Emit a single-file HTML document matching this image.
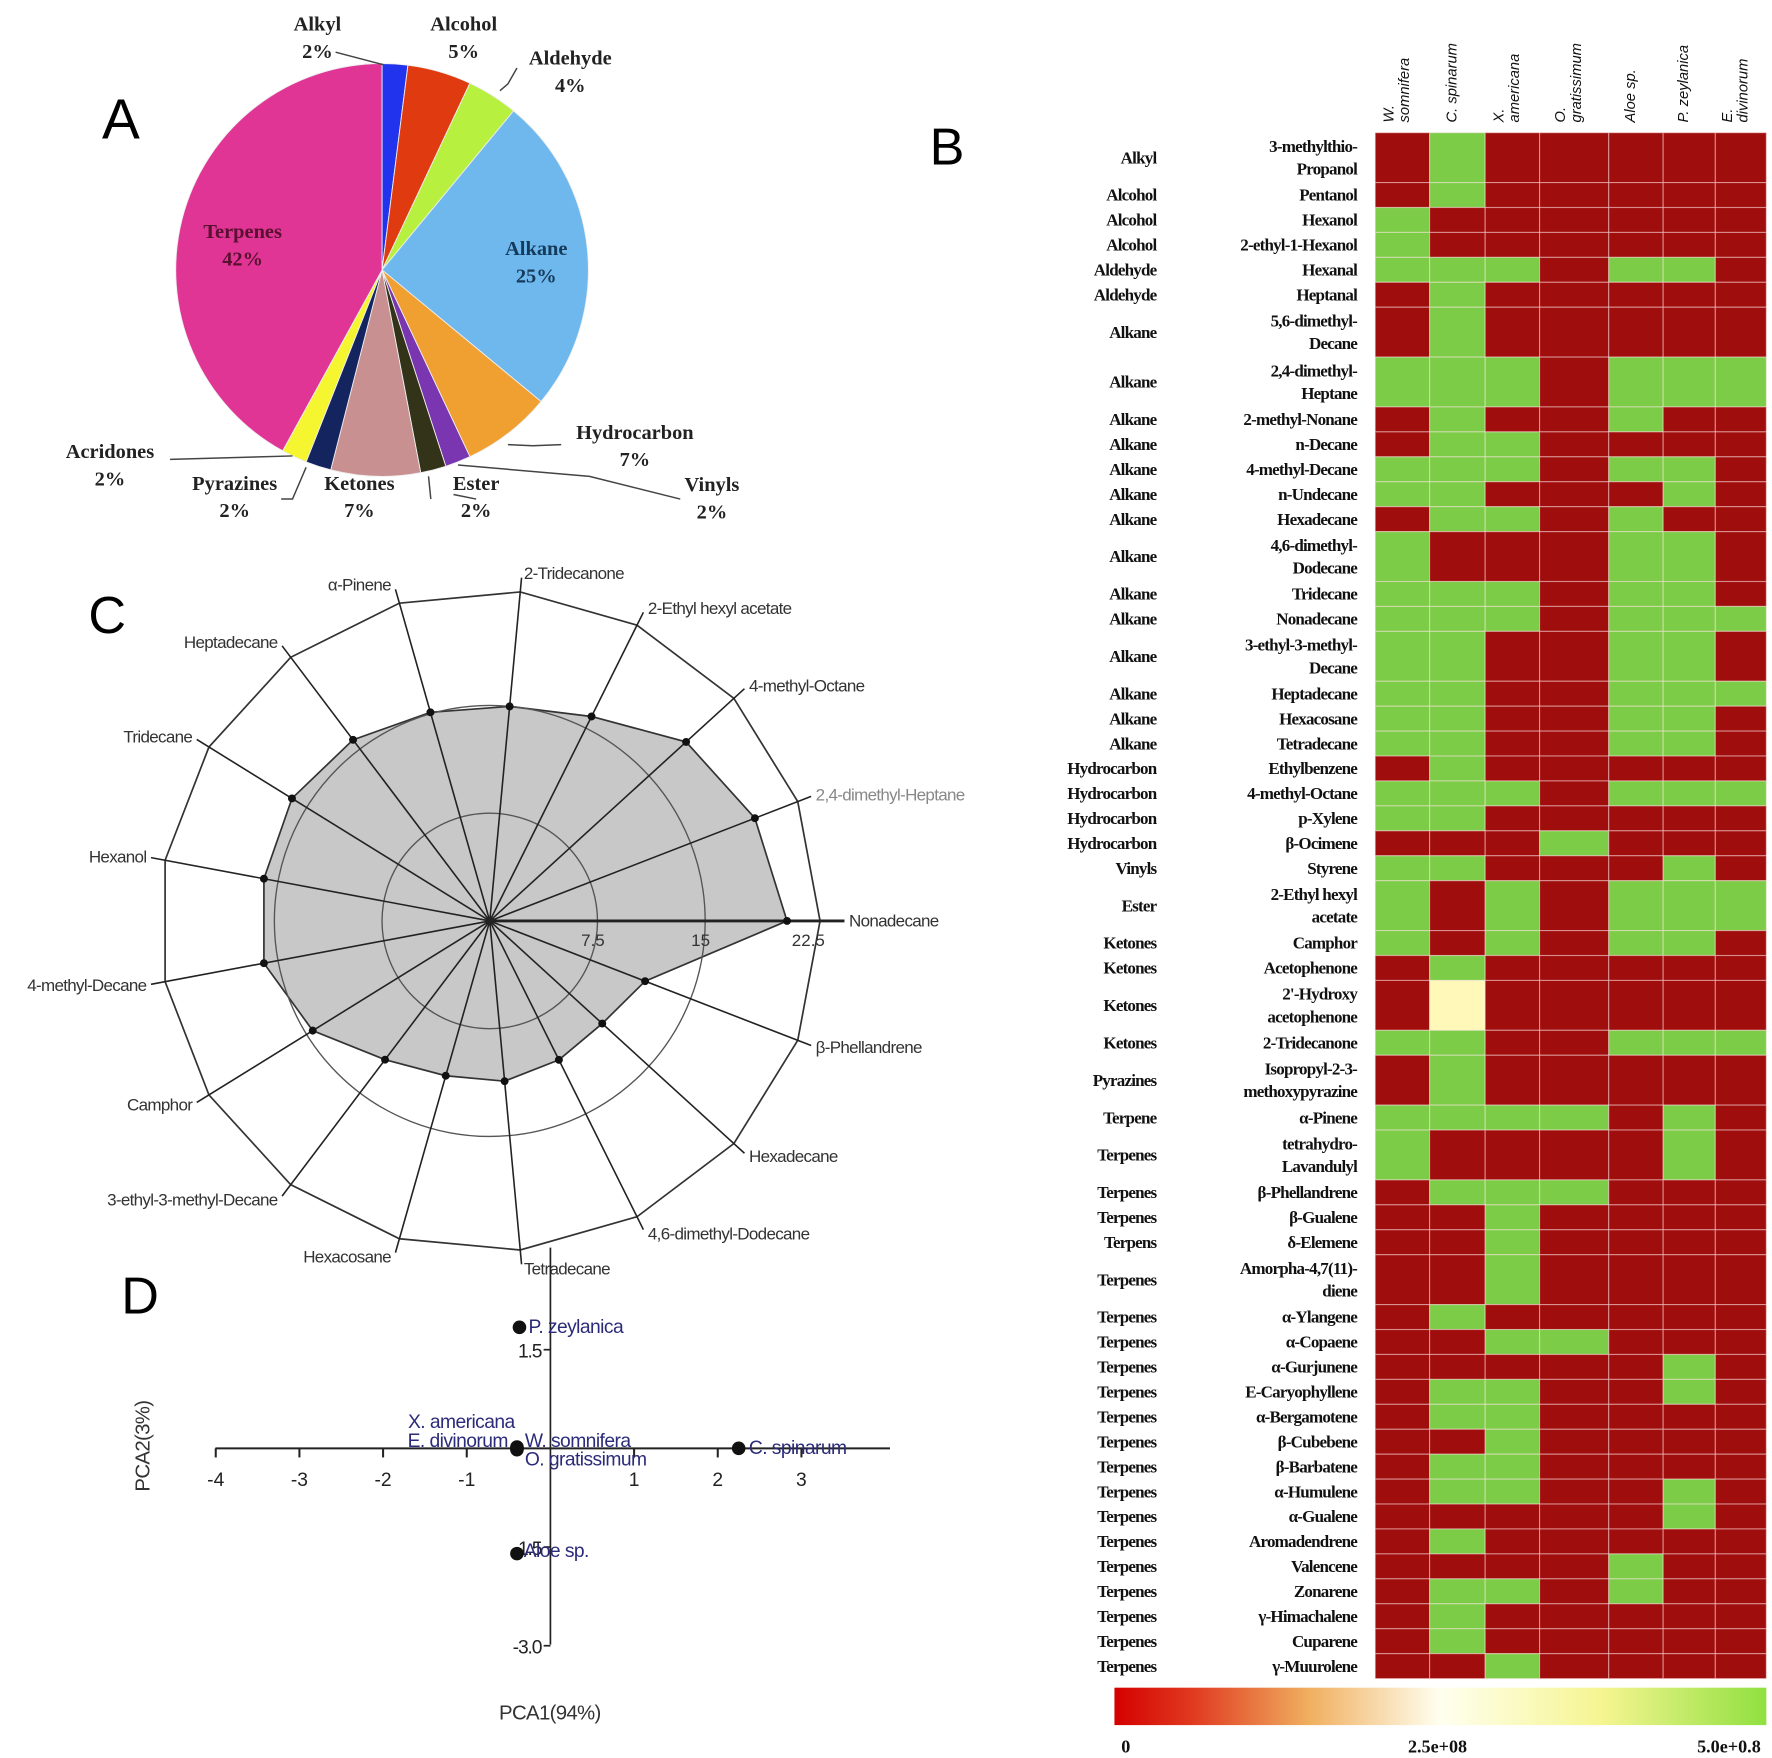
<!DOCTYPE html>
<html><head><meta charset="utf-8"><style>
html,body{margin:0;padding:0;background:#fff;}
svg{display:block;}
.ser{font-family:"Liberation Serif",serif;font-weight:bold;}
.san{font-family:"Liberation Sans",sans-serif;}
</style></head><body>
<svg id="fig" width="1772" height="1758" viewBox="0 0 1563 1550" preserveAspectRatio="none" xmlns="http://www.w3.org/2000/svg">
<rect x="0" y="0" width="1563" height="1550" fill="#fff"/>
<text class="san" x="90" y="122" font-size="50">A</text>
<text class="san" x="820" y="145" font-size="46">B</text>
<text class="san" x="78" y="558" font-size="46">C</text>
<text class="san" x="107" y="1158" font-size="46">D</text>
<g id="pie"></g>
<g id="radar"></g>
<g id="pca"></g>
<g id="heat"></g>
</svg>
<script>
const NS="http://www.w3.org/2000/svg";
function mk(parent,tag,attrs,txt){const e=document.createElementNS(NS,tag);for(const k in attrs)e.setAttribute(k,attrs[k]);if(txt!==undefined)e.textContent=txt;parent.appendChild(e);return e;}

/* ---------- PIE DATA ---------- */
const pieCategories=["Alkyl","Alcohol","Aldehyde","Alkane","Hydrocarbon","Vinyls","Ester","Ketones","Pyrazines","Acridones","Terpenes"];
const piePercents=[2,5,4,25,7,2,2,7,2,2,42];
const pieColors=["#2233ee","#e03a10","#b8f040","#6fb8ee","#f0a030","#7a35b0","#33331a","#c89090","#14245e","#f5f530","#e03595"];
const pieLabelPos=[[280,27],[409,27],[503,57],[473,225],[560,387],[628,433],[420,432],[317,432],[207,432],[97,404],[214,210]];

/* ---------- RADAR DATA ---------- */
const radarAxes=["Nonadecane","2,4-dimethyl-Heptane","4-methyl-Octane","2-Ethyl hexyl acetate","2-Tridecanone","α-Pinene","Heptadecane","Tridecane","Hexanol","4-methyl-Decane","Camphor","3-ethyl-3-methyl-Decane","Hexacosane","Tetradecane","4,6-dimethyl-Dodecane","Hexadecane","β-Phellandrene"];
const radarValues=[20.7,19.8,18.5,15.9,15.0,15.1,15.8,16.2,16.0,16.0,14.5,12.1,11.2,11.2,10.8,10.6,11.6];
const radarTicks=[7.5,15,22.5];

/* ---------- PCA DATA ---------- */
const pcaNames=["P. zeylanica","C. spinarum","X. americana","E. divinorum","W. somnifera","O. gratissimum","Aloe sp."];
const pcaX=[-0.37,2.25,-0.4,-0.4,-0.4,-0.4,-0.4];
const pcaY=[1.84,0,0.02,0,0,-0.02,-1.6];
const pcaXTicks=[-4,-3,-2,-1,1,2,3];
const pcaYTicks=["1.5","-1.5","-3.0"];
const pcaLabelOff=[[8,0,"start"],[9,0,"start"],[-2,-22,"end"],[-8,-6,"end"],[7,-6,"start"],[7,9,"start"],[6,-2,"start"]];

/* ---------- HEATMAP DATA ---------- */
const heatSpecies=[["W.","somnifera"],["C. spinarum"],["X.","americana"],["O.","gratissimum"],["Aloe sp."],["P. zeylanica"],["E.","divinorum"]];
const heatClasses=["Alkyl","Alcohol","Alcohol","Alcohol","Aldehyde","Aldehyde","Alkane","Alkane","Alkane","Alkane","Alkane","Alkane","Alkane","Alkane","Alkane","Alkane","Alkane","Alkane","Alkane","Alkane","Hydrocarbon","Hydrocarbon","Hydrocarbon","Hydrocarbon","Vinyls","Ester","Ketones","Ketones","Ketones","Ketones","Pyrazines","Terpene","Terpenes","Terpenes","Terpenes","Terpens","Terpenes","Terpenes","Terpenes","Terpenes","Terpenes","Terpenes","Terpenes","Terpenes","Terpenes","Terpenes","Terpenes","Terpenes","Terpenes","Terpenes","Terpenes","Terpenes"];
const heatCompounds=["3-methylthio-|Propanol","Pentanol","Hexanol","2-ethyl-1-Hexanol","Hexanal","Heptanal","5,6-dimethyl-|Decane","2,4-dimethyl-|Heptane","2-methyl-Nonane","n-Decane","4-methyl-Decane","n-Undecane","Hexadecane","4,6-dimethyl-|Dodecane","Tridecane","Nonadecane","3-ethyl-3-methyl-|Decane","Heptadecane","Hexacosane","Tetradecane","Ethylbenzene","4-methyl-Octane","p-Xylene","β-Ocimene","Styrene","2-Ethyl hexyl|acetate","Camphor","Acetophenone","2'-Hydroxy|acetophenone","2-Tridecanone","Isopropyl-2-3-|methoxypyrazine","α-Pinene","tetrahydro-|Lavandulyl","β-Phellandrene","β-Gualene","δ-Elemene","Amorpha-4,7(11)-|diene","α-Ylangene","α-Copaene","α-Gurjunene","E-Caryophyllene","α-Bergamotene","β-Cubebene","β-Barbatene","α-Humulene","α-Gualene","Aromadendrene","Valencene","Zonarene","γ-Himachalene","Cuparene","γ-Muurolene"];
// presence pattern in units of 5e8 (1 = max, 0 = none)
const heatValues=[
[0,1,0,0,0,0,0],[0,1,0,0,0,0,0],[1,0,0,0,0,0,0],[1,0,0,0,0,0,0],[1,1,1,0,1,1,0],[0,1,0,0,0,0,0],[0,1,0,0,0,0,0],[1,1,1,0,1,1,1],
[0,1,0,0,1,0,0],[0,1,1,0,0,0,0],[1,1,1,0,1,1,0],[1,1,0,0,0,1,0],[0,1,1,0,1,0,0],[1,0,0,0,1,1,0],[1,1,1,0,1,1,0],[1,1,1,0,1,1,1],
[1,1,0,0,1,1,0],[1,1,0,0,1,1,1],[1,1,0,0,1,1,0],[1,1,0,0,1,1,0],[0,1,0,0,0,0,0],[1,1,1,0,1,1,1],[1,1,0,0,0,0,0],[0,0,0,1,0,0,0],
[1,1,0,0,0,1,0],[1,0,1,0,1,1,1],[1,0,1,0,1,1,0],[0,1,0,0,0,0,0],[0,0.47,0,0,0,0,0],[1,1,0,0,1,1,1],[0,1,0,0,0,0,0],[1,1,1,1,0,1,0],
[1,0,0,0,0,1,0],[0,1,1,1,0,0,0],[0,0,1,0,0,0,0],[0,0,1,0,0,0,0],[0,0,1,0,0,0,0],[0,1,0,0,0,0,0],[0,0,1,1,0,0,0],[0,0,0,0,0,1,0],
[0,1,1,0,0,1,0],[0,1,1,0,0,0,0],[0,0,1,0,0,0,0],[0,1,1,0,0,0,0],[0,1,1,0,0,1,0],[0,0,0,0,0,1,0],[0,1,0,0,0,0,0],[0,0,0,0,1,0,0],
[0,1,1,0,1,0,0],[0,1,0,0,0,0,0],[0,1,0,0,0,0,0],[0,0,1,0,0,0,0]];
const heatMax=5e8;
const colorbarTicks=["0","2.5e+08","5.0e+0.8"];

/* ===== PIE ===== */
(function(){
const g=document.getElementById('pie');
const cx=337,cy=238,r=182;
let a0=-Math.PI/2;
const total=piePercents.reduce((s,v)=>s+v,0);
piePercents.forEach((p,i)=>{
  const a1=a0+p/total*2*Math.PI;
  const x0=cx+r*Math.cos(a0),y0=cy+r*Math.sin(a0),x1=cx+r*Math.cos(a1),y1=cy+r*Math.sin(a1);
  const path=mk(g,'path',{d:`M${cx},${cy} L${x0},${y0} A${r},${r} 0 ${a1-a0>Math.PI?1:0} 1 ${x1},${y1} Z`,fill:pieColors[i],stroke:"#eee","stroke-width":0.8});
  
  
  a0=a1;
});
// leader lines
const leaders=["M296,46 L338,57","M456,60 L448,74 L441,80","M448,392 L470,393 L495,392","M404,410 L520,420 L600,440","M150,405 L258,402","M248,440 L258,440 L270,412","M380,440 L378,420","M420,440 L400,436"];
leaders.forEach((d,i)=>{const l=mk(g,'path',{d:d,fill:"none",stroke:"#444","stroke-width":1.3});
  
  });
pieCategories.forEach((c,i)=>{
  const [x,y]=pieLabelPos[i];
  const col=(c==="Terpenes")?"#5a1030":(c==="Alkane"?"#153a5a":"#222");
  const t=mk(g,'text',{x:x,y:y,"text-anchor":"middle","font-size":18,fill:col,class:"ser"});
  
  
  mk(t,'tspan',{x:x,dy:0},c);
  mk(t,'tspan',{x:x,dy:24},piePercents[i]+"%");
});
})();

/* ===== RADAR ===== */
(function(){
const g=document.getElementById('radar');
const cx=432,cy=812,unit=285/22.5;
const n=radarAxes.length;
const ang=i=>i*2*Math.PI/n;
const pt=(i,v)=>[cx+v*unit*Math.cos(ang(i)),cy-v*unit*Math.sin(ang(i))];
// outer polygon (22.5)
const outer=radarAxes.map((_,i)=>pt(i,23).join(',')).join(' ');
// filled data polygon
const dp=radarValues.map((v,i)=>pt(i,v).join(',')).join(' ');
const poly=mk(g,'polygon',{points:dp,fill:"#c8c8c8",stroke:"#333","stroke-width":1.5});


radarTicks.slice(0,2).forEach(t=>{const c=mk(g,'circle',{cx:cx,cy:cy,r:t*unit,fill:"none",stroke:"#555","stroke-width":1.2});
  
  });
const op=mk(g,'polygon',{points:outer,fill:"none",stroke:"#333","stroke-width":1.5});


radarAxes.forEach((name,i)=>{
  const len=i===0?24.7:24;
  const [x,y]=pt(i,len);
  const l=mk(g,'line',{x1:cx,y1:cy,x2:x,y2:y,stroke:"#222","stroke-width":i===0?2.5:1.4});
  
  
  const c=Math.cos(ang(i)),s=Math.sin(ang(i));
  const anchor=c>0.25?"start":(c<-0.25?"end":(c>=0?"start":"end"));
  const tx=x+(c>0.25?4:(c<-0.25?-4:(c>=0?2:-2)));
  const ty=y-s*4+5;
  const t=mk(g,'text',{x:tx,y:ty,"text-anchor":anchor,"font-size":15,fill:i===1?"#888":"#333",class:"san","letter-spacing":"-0.6"},name);
  
  
});
radarValues.forEach((v,i)=>{const [x,y]=pt(i,v);const d=mk(g,'circle',{cx:x,cy:y,r:3.5,fill:"#111"});
  
  });
radarTicks.forEach(t=>{const tl=mk(g,'text',{x:cx+t*unit-4,y:cy+22,"text-anchor":"middle","font-size":15,fill:"#333",class:"san"},String(t));
  
  });
mk(g,'circle',{cx:cx,cy:cy,r:4,fill:"#222"});
})();

/* ===== PCA ===== */
(function(){
const g=document.getElementById('pca');
const x0=485.5,y0=1277,ux=73.8,uy=58;
const X=v=>x0+v*ux, Y=v=>y0-v*uy;
const xa=mk(g,'line',{x1:190,y1:y0,x2:785,y2:y0,stroke:"#222","stroke-width":1.8});


const ya=mk(g,'line',{x1:x0,y1:1100,x2:x0,y2:1450,stroke:"#222","stroke-width":1.5});


pcaXTicks.forEach(v=>{
  mk(g,'line',{x1:X(v),y1:y0,x2:X(v),y2:y0+8,stroke:"#222","stroke-width":1.8});
  const t=mk(g,'text',{x:X(v),y:y0+33,"text-anchor":"middle","font-size":17,fill:"#222",class:"san"},String(v));
  
  
});
pcaYTicks.forEach(s=>{
  const v=parseFloat(s);
  mk(g,'line',{x1:x0-6,y1:Y(v),x2:x0,y2:Y(v),stroke:"#222","stroke-width":1.5});
  const t=mk(g,'text',{x:x0-8,y:Y(v)+7,"text-anchor":"end","font-size":17,fill:"#222",class:"san","letter-spacing":"-1"},s);
  
  
});
pcaNames.forEach((n,i)=>{
  const px=X(pcaX[i]),py=Y(pcaY[i]);
  const d=mk(g,'circle',{cx:px,cy:py,r:6,fill:"#111"});
  
  
  const o=pcaLabelOff[i];
  const t=mk(g,'text',{x:px+o[0],y:py+o[1]+5,"text-anchor":o[2],"font-size":17,fill:"#2b2b7a",class:"san","letter-spacing":"-0.5"},n);
  
  
});
const xt=mk(g,'text',{x:485,y:1516,"text-anchor":"middle","font-size":18,fill:"#333",class:"san","letter-spacing":"-0.6"},"PCA1(94%)");


const yt=mk(g,'text',{x:0,y:0,"text-anchor":"middle","font-size":18,fill:"#333",class:"san",transform:"translate(132,1275) rotate(-90)","letter-spacing":"-0.6"},"PCA2(3%)");


})();

/* ===== HEATMAP ===== */
(function(){
const g=document.getElementById('heat');
const colEdges=[1213,1261,1310,1358,1419,1467,1513,1558];
const top=117,bottom=1480;
const units=heatCompounds.map(c=>c.includes('|')?2:1);
const totalU=units.reduce((a,b)=>a+b,0);
const uh=(bottom-top)/totalU;
function color(v){
  const t=Math.max(0,Math.min(1,v/heatMax));
  if(t<0.05) return "#a00d0d";
  if(t>0.95) return "#7dcc48";
  return "#fff8b8";
}
let y=top;
heatCompounds.forEach((c,ri)=>{
  const h=units[ri]*uh;
  heatValues[ri].forEach((v,ci)=>{
    const r=mk(g,'rect',{x:colEdges[ci],y:y,width:colEdges[ci+1]-colEdges[ci],height:h,fill:color(v*heatMax),stroke:"rgba(255,230,230,0.45)","stroke-width":1});
    
    
  });
  const lines=c.split('|');
  const cy=y+h/2;
  const t=mk(g,'text',{x:1197,y:cy-(lines.length-1)*10+5,"text-anchor":"end","font-size":15,fill:"#111",class:"ser","letter-spacing":"-0.7"});
  
  
  lines.forEach((l,k)=>mk(t,'tspan',{x:1197,dy:k?20:0},l));
  const cl=mk(g,'text',{x:1020,y:cy+5,"text-anchor":"end","font-size":15,fill:"#111",class:"ser","letter-spacing":"-0.7"},heatClasses[ri]);
  
  
  y+=h;
});
heatSpecies.forEach((s,ci)=>{
  const cx=(colEdges[ci]+colEdges[ci+1])/2;
  const off=s.length>1?[-13,1]:[-6];
  s.forEach((part,k)=>{
    const t=mk(g,'text',{x:0,y:0,"text-anchor":"start","font-size":13,"font-style":"italic",fill:"#111",class:"san",transform:`translate(${cx+off[k]+5},108) rotate(-90)`},part);
    
    
  });
});
// colorbar
const defs=mk(g,'defs',{});
const lg=mk(defs,'linearGradient',{id:"cb",x1:"0",x2:"1",y1:"0",y2:"0"});
[["0","#d40000"],["0.12","#e03a20"],["0.3","#f0b060"],["0.5","#fffff0"],["0.75","#f5f590"],["1","#90e040"]].forEach(s=>mk(lg,'stop',{offset:s[0],"stop-color":s[1]}));
const cb=mk(g,'rect',{x:983,y:1488,width:575,height:33,fill:"url(#cb)"});


colorbarTicks.forEach((s,i)=>{
  const xs=[993,1268,1525];
  const t=mk(g,'text',{x:xs[i],y:1545,"text-anchor":"middle","font-size":16,fill:"#111",class:"ser"},s);
  
  
});
})();
</script>
</body></html>
